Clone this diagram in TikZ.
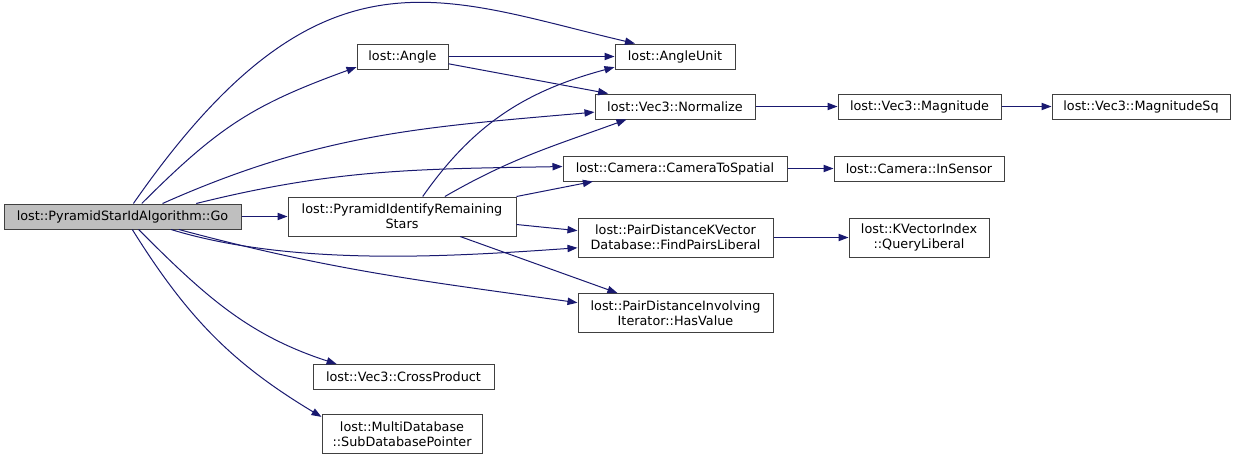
\documentclass[tikz,border=0pt]{standalone}
\usepackage{fontspec}
\setmainfont{DejaVu Sans}
\usetikzlibrary{arrows.meta}
\definecolor{edgeblue}{RGB}{25,25,112}
\definecolor{boxline}{RGB}{64,64,64}
\definecolor{gofill}{RGB}{191,191,191}

\begin{document}
\begin{tikzpicture}[
  x=0.75pt,y=0.75pt,
  box/.style={draw=boxline,line width=0.75pt,align=center,inner sep=0pt,
    minimum height=18.75pt,font=\fontsize{9.6}{11.25}\selectfont},
  tall/.style={minimum height=29.25pt},
  edge/.style={-{Triangle[length=7.5pt,width=5.5pt]},draw=edgeblue,line width=0.75pt}
]
  \useasboundingbox (0,0) rectangle (1236,-461);

  \node[box,fill=gofill,minimum width=177.75pt] (go) at (122.5,-216.5) {lost::PyramidStarIdAlgorithm::Go};
  \node[box,minimum width=68.25pt] (angle) at (402.5,-56.5) {lost::Angle};
  \node[box,minimum width=90pt] (angleunit) at (675,-56.5) {lost::AngleUnit};
  \node[box,minimum width=120pt] (normalize) at (675,-106.5) {lost::Vec3::Normalize};
  \node[box,minimum width=122.25pt] (magnitude) at (919.5,-106.5) {lost::Vec3::Magnitude};
  \node[box,minimum width=133.5pt] (magnitudesq) at (1141,-106.5) {lost::Vec3::MagnitudeSq};
  \node[box,minimum width=168pt] (cam2spatial) at (675,-168.5) {lost::Camera::CameraToSpatial};
  \node[box,minimum width=127.5pt] (insensor) at (919,-168.5) {lost::Camera::InSensor};
  \node[box,tall,minimum width=171pt] (remaining) at (402,-216.5) {lost::PyramidIdentifyRemaining\\Stars};
  \node[box,tall,minimum width=146.25pt] (findpairs) at (675.5,-237.5) {lost::PairDistanceKVector\\Database::FindPairsLiberal};
  \node[box,tall,minimum width=105pt] (queryliberal) at (919,-237.5) {lost::KVectorIndex\\::QueryLiberal};
  \node[box,tall,minimum width=146.25pt] (hasvalue) at (675.5,-313) {lost::PairDistanceInvolving\\Iterator::HasValue};
  \node[box,minimum width=135.75pt] (crossproduct) at (403.5,-377) {lost::Vec3::CrossProduct};
  \node[box,tall,minimum width=120pt] (subdb) at (402,-434) {lost::MultiDatabase\\::SubDatabasePointer};

  \draw[edge] (go.50) .. controls (320,65) and (440,2) .. (angleunit.162);
  \draw[edge] (go.34) to[out=45,in=200,looseness=1.1] (angle.193);
  \draw[edge] (go.18) to[out=24,in=185] (normalize.184);
  \draw[edge] (go.10) to[out=14,in=181] (cam2spatial.179);
  \draw[edge] (go) -- (remaining);
  \draw[edge] (go.-15) to[out=-17,in=184,looseness=0.8] (findpairs.186);
  \draw[edge] (go.-13) to[out=-15,in=172] (hasvalue.174);
  \draw[edge] (go.-39) to[out=-45,in=162] (crossproduct.169);
  \draw[edge] (go.-53) to[out=-58,in=149] (subdb.168);
  \draw[edge] (angle) -- (angleunit);
  \draw[edge] (angle.-9) -- (normalize.169);
  \draw[edge] (remaining.44) to[out=55,in=195] (angleunit.190);
  \draw[edge] (remaining.25) to[out=30,in=200] (normalize.195);
  \draw[edge] (remaining.north east) -- (cam2spatial.189);
  \draw[edge] (remaining.-4) -- (findpairs.176);
  \draw[edge] (remaining.-19) -- (hasvalue.161);
  \draw[edge] (normalize) -- (magnitude);
  \draw[edge] (magnitude) -- (magnitudesq);
  \draw[edge] (cam2spatial) -- (insensor);
  \draw[edge] (findpairs) -- (queryliberal);
\end{tikzpicture}
\end{document}
